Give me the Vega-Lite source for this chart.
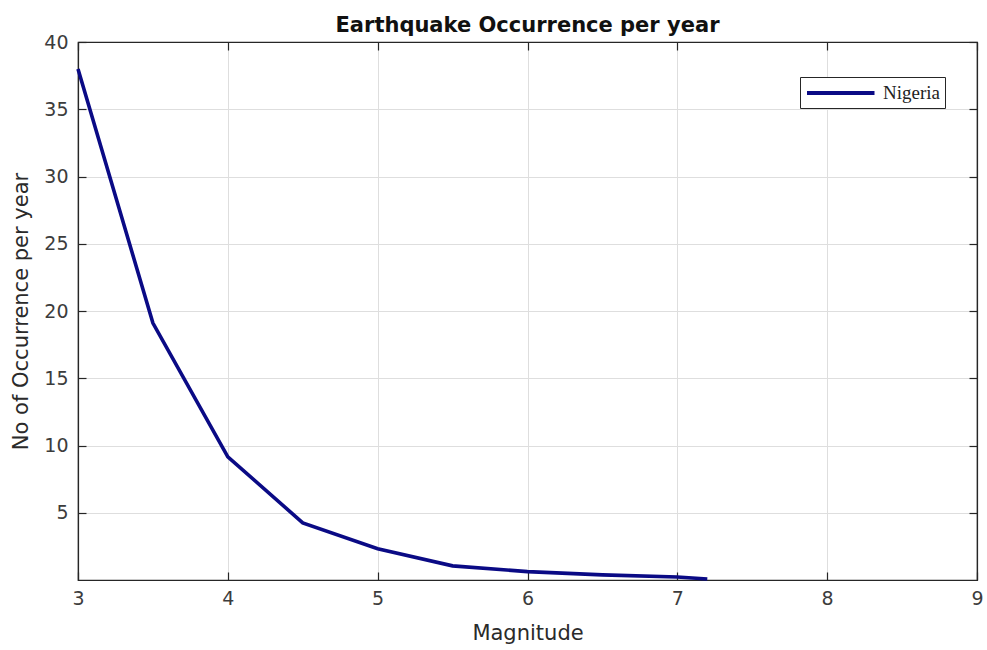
{
  "$schema": "https://vega.github.io/schema/vega-lite/v6.json",
  "width": 899,
  "height": 538,
  "autosize": {"type": "none"},
  "padding": {"left": 78, "top": 42, "right": 10, "bottom": 70},
  "background": "white",
  "title": {
    "text": "Earthquake Occurrence per year",
    "font": "DejaVu Sans",
    "fontSize": 21,
    "fontWeight": "bold",
    "color": "#111111",
    "offset": -3,
    "anchor": "middle"
  },
  "config": {
    "view": {"stroke": "#262626", "strokeWidth": 1.2},
    "axis": {
      "labelFont": "DejaVu Sans",
      "titleFont": "DejaVu Sans",
      "labelFontSize": 19,
      "titleFontSize": 21,
      "labelColor": "#3c3c3c",
      "titleColor": "#2a2a2a",
      "titleFontWeight": "normal",
      "gridColor": "#dedede",
      "gridWidth": 1,
      "domain": true,
      "domainColor": "#262626",
      "domainWidth": 1.2,
      "tickColor": "#262626",
      "tickSize": -8,
      "tickWidth": 1.2
    }
  },
  "data": {
    "values": [
      {"magnitude": 3.0, "occurrence": 38.0, "country": "Nigeria"},
      {"magnitude": 3.5, "occurrence": 19.1, "country": "Nigeria"},
      {"magnitude": 4.0, "occurrence": 9.15, "country": "Nigeria"},
      {"magnitude": 4.5, "occurrence": 4.25, "country": "Nigeria"},
      {"magnitude": 5.0, "occurrence": 2.33, "country": "Nigeria"},
      {"magnitude": 5.5, "occurrence": 1.05, "country": "Nigeria"},
      {"magnitude": 6.0, "occurrence": 0.62, "country": "Nigeria"},
      {"magnitude": 6.5, "occurrence": 0.38, "country": "Nigeria"},
      {"magnitude": 7.0, "occurrence": 0.22, "country": "Nigeria"},
      {"magnitude": 7.2, "occurrence": 0.08, "country": "Nigeria"}
    ]
  },
  "layer": [
    {
      "mark": {"type": "line", "strokeWidth": 3.6},
      "encoding": {
        "x": {
          "field": "magnitude",
          "type": "quantitative",
          "scale": {"domain": [3, 9], "nice": false},
          "axis": {
            "title": "Magnitude",
            "orient": "bottom",
            "values": [3, 4, 5, 6, 7, 8, 9],
            "labelPadding": 17,
            "labelFlush": false,
            "titlePadding": 14,
            "format": "d",
            "gridColor": {"condition": {"test": "datum.value == 3 || datum.value == 9", "value": "#262626"}, "value": "#dedede"}
          }
        },
        "y": {
          "field": "occurrence",
          "type": "quantitative",
          "scale": {"domain": [0, 40], "nice": false},
          "axis": {
            "title": "No of Occurrence per year",
            "orient": "left",
            "values": [5, 10, 15, 20, 25, 30, 35, 40],
            "labelPadding": 18,
            "titlePadding": 12,
            "gridColor": {"condition": {"test": "datum.value == 40", "value": "#262626"}, "value": "#dedede"}
          }
        },
        "color": {
          "field": "country",
          "type": "nominal",
          "scale": {"range": ["#0a0a85"]},
          "legend": {
            "title": null,
            "orient": "none",
            "legendX": 722,
            "legendY": 35,
            "symbolType": "M-1,0H6.5",
            "symbolSize": 324,
            "symbolStrokeWidth": 4,
            "symbolStrokeColor": "#0a0a85",
            "symbolFillColor": "transparent",
            "labelFont": "Liberation Serif",
            "labelFontSize": 19,
            "labelColor": "#222222",
            "strokeColor": "#262626",
            "fillColor": "white",
            "padding": 5,
            "labelOffset": 56
          }
        }
      }
    },
    {
      "mark": {"type": "line", "opacity": 0},
      "encoding": {
        "x": {
          "field": "magnitude",
          "type": "quantitative",
          "axis": {
            "orient": "top",
            "title": null,
            "labels": false,
            "grid": false,
            "values": [3, 4, 5, 6, 7, 8, 9]
          }
        },
        "y": {
          "field": "occurrence",
          "type": "quantitative",
          "axis": {
            "orient": "right",
            "title": null,
            "labels": false,
            "grid": false,
            "values": [5, 10, 15, 20, 25, 30, 35, 40]
          }
        }
      }
    }
  ],
  "resolve": {"axis": {"x": "independent", "y": "independent"}}
}
